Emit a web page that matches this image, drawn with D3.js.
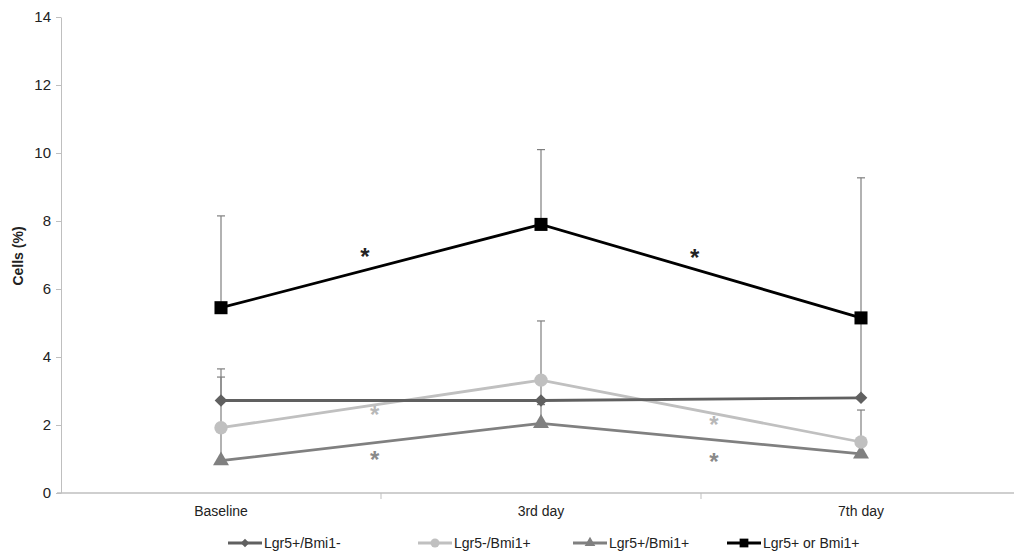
<!DOCTYPE html>
<html>
<head>
<meta charset="utf-8">
<script src="https://cdn.jsdelivr.net/npm/d3@7"></script>
<style>
  body { margin: 0; background: #fff; }
  text { font-family: "Liberation Sans", Arial, sans-serif; }
</style>
</head>
<body>
<div id="chart"></div>
<script>
// Data
const categories = ["Baseline", "3rd day", "7th day"];
const seriesNames = ["Lgr5+/Bmi1-", "Lgr5-/Bmi1+", "Lgr5+/Bmi1+", "Lgr5+ or Bmi1+"];
const lgr5PosBmi1Neg = [2.72, 2.72, 2.8];
const lgr5NegBmi1Pos = [1.92, 3.32, 1.5];
const lgr5PosBmi1PosV = [0.95, 2.05, 1.15];
const lgr5OrBmi1 = [5.45, 7.9, 5.15];
// upper end of each error bar
const errTopA = [3.65, 3.25, 5.15];
const errTopB = [3.41, 5.06, 2.44];
const errTopC = [1.8, 2.6, 1.45];
const errTopD = [8.15, 10.1, 9.27];
// significance stars: [position along category axis, value]
const starsD = [[0.45, 7.0], [1.48, 6.97]];
const starsB = [[0.48, 2.35], [1.54, 2.06]];
const starsC = [[0.48, 1.03], [1.54, 0.98]];
const yTicks = [0, 2, 4, 6, 8, 10, 12, 14];

const width = 1014, height = 554;
const margin = { left: 61, top: 17, bottom: 61 };

const svg = d3.select("#chart").append("svg")
    .attr("width", width)
    .attr("height", height);

const y = d3.scaleLinear().domain([0, 14]).range([height - margin.bottom, margin.top]);
// category index -> pixel (centre of each band), bands 320px wide
const step = 320;
const x = d3.scaleLinear().domain([0, 1]).range([margin.left + step / 2, margin.left + step * 1.5]);

const axisColor = "#bfbfbf";

// y axis
const yAxis = svg.append("g")
    .attr("transform", `translate(${margin.left},0)`)
    .call(d3.axisLeft(y).tickValues(yTicks).tickSize(5).tickSizeOuter(0));
yAxis.select(".domain").attr("stroke", axisColor);
yAxis.selectAll(".tick line").attr("stroke", axisColor);
yAxis.selectAll(".tick text")
    .attr("font-size", 15)
    .attr("fill", "#222")
    .attr("x", -10)
    .attr("font-family", "Liberation Sans, Arial, sans-serif");

// x axis: line with ticks at band edges, labels at band centres
const x0 = y(0);
svg.append("line")
    .attr("x1", margin.left - 4).attr("x2", width)
    .attr("y1", x0).attr("y2", x0)
    .attr("stroke", axisColor).attr("stroke-width", 1.5);
svg.selectAll("line.xtick")
    .data([0.5, 1.5])
    .enter().append("line")
    .attr("class", "xtick")
    .attr("x1", d => x(d)).attr("x2", d => x(d))
    .attr("y1", x0).attr("y2", x0 + 6)
    .attr("stroke", axisColor);
svg.selectAll("text.xlab")
    .data(categories)
    .enter().append("text")
    .attr("class", "xlab")
    .attr("x", (d, i) => x(i))
    .attr("y", x0 + 23)
    .attr("text-anchor", "middle")
    .attr("font-size", 14)
    .attr("fill", "#222")
    .text(d => d);

// y axis title
svg.append("text")
    .attr("transform", `translate(23,256) rotate(-90)`)
    .attr("text-anchor", "middle")
    .attr("font-size", 14)
    .attr("font-weight", "bold")
    .attr("fill", "#222")
    .text("Cells (%)");

const series = [
    { name: seriesNames[0], values: lgr5PosBmi1Neg, err: errTopA, color: "#606060", shape: d3.symbolSquare, size: 80, rot: 45 },
    { name: seriesNames[1], values: lgr5NegBmi1Pos, err: errTopB, color: "#c0c0c0", shape: d3.symbolCircle, size: 140, rot: 0 },
    { name: seriesNames[2], values: lgr5PosBmi1PosV, err: errTopC, color: "#808080", shape: d3.symbolTriangle, size: 110, rot: 0 },
    { name: seriesNames[3], values: lgr5OrBmi1, err: errTopD, color: "#000000", shape: d3.symbolSquare, size: 170, rot: 0 }
];

// error bars (upper only), drawn under the lines
const errG = svg.append("g");
series.forEach(s => {
    s.values.forEach((v, i) => {
        errG.append("line")
            .attr("x1", x(i)).attr("x2", x(i))
            .attr("y1", y(v)).attr("y2", y(s.err[i]))
            .attr("stroke", "#7f7f7f").attr("stroke-width", 1.2);
        errG.append("line")
            .attr("x1", x(i) - 4).attr("x2", x(i) + 4)
            .attr("y1", y(s.err[i])).attr("y2", y(s.err[i]))
            .attr("stroke", "#7f7f7f").attr("stroke-width", 1.2);
    });
});

const line = d3.line()
    .x((d, i) => x(i))
    .y(d => y(d));

const drawOrder = [2, 1, 0, 3];
drawOrder.forEach(k => {
    const s = series[k];
    svg.append("path")
        .datum(s.values)
        .attr("d", line)
        .attr("fill", "none")
        .attr("stroke", s.color)
        .attr("stroke-width", 2.8);
    svg.selectAll(null)
        .data(s.values)
        .enter().append("path")
        .attr("d", d3.symbol().type(s.shape).size(s.size))
        .attr("transform", (d, i) => `translate(${x(i)},${y(d)}) rotate(${s.rot})`)
        .attr("fill", s.color);
});

// significance stars
function drawStars(list, color) {
    svg.selectAll(null)
        .data(list)
        .enter().append("text")
        .attr("x", d => x(d[0]))
        .attr("y", d => y(d[1]) + 10)
        .attr("text-anchor", "middle")
        .attr("font-size", 24)
        .attr("font-weight", "bold")
        .attr("fill", color)
        .text("*");
}
drawStars(starsD, "#222");
drawStars(starsB, "#b8b8b8");
drawStars(starsC, "#8a8a8a");

// legend
const legendX = [228, 418, 573, 727];
const legendY = 543;
const legend = svg.append("g");
series.forEach((s, i) => {
    const g = legend.append("g").attr("transform", `translate(${legendX[i]},${legendY})`);
    g.append("line")
        .attr("x1", 0).attr("x2", 34)
        .attr("stroke", s.color).attr("stroke-width", 2.8);
    g.append("path")
        .attr("d", d3.symbol().type(s.shape).size(s.size * 0.45))
        .attr("transform", `translate(17,0) rotate(${s.rot})`)
        .attr("fill", s.color);
    g.append("text")
        .attr("x", 36)
        .attr("y", 5)
        .attr("font-size", 14)
        .attr("fill", "#222")
        .text(s.name);
});
</script>
</body>
</html>
